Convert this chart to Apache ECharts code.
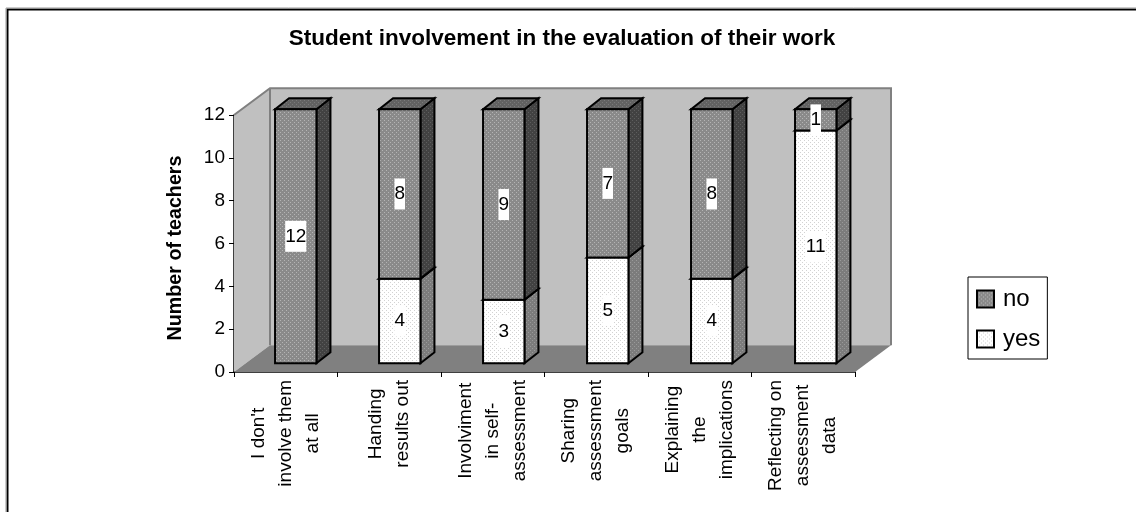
<!DOCTYPE html>
<html>
<head>
<meta charset="utf-8">
<style>html,body{margin:0;padding:0;background:#fff}#c{width:1136px;height:512px}</style>
<script src="https://cdn.jsdelivr.net/npm/echarts@6/dist/echarts.min.js"></script>
</head>
<body>
<div id="c"></div>
<script>
const categories = ["I don't\ninvolve them\nat all", "Handing\nresults out", "Involviment\nin self-\nassessment", "Sharing\nassessment\ngoals", "Explaining\nthe\nimplications", "Reflecting on\nassessment\ndata"];
const yesValues = [0, 4, 3, 5, 4, 11];
const noValues = [12, 8, 9, 7, 8, 1];
const yTicks = [0, 2, 4, 6, 8, 10, 12];

const FONT = '"Liberation Sans", Arial, sans-serif';

function tile(base, dot, size) {
  const cv = document.createElement('canvas');
  cv.width = cv.height = size;
  const g = cv.getContext('2d');
  g.fillStyle = base; g.fillRect(0, 0, size, size);
  g.fillStyle = dot;
  for (let y = 0; y < size; y += 2) {
    for (let x = (y % 4 === 0 ? 0 : 2) % size; x < size; x += 4) g.fillRect(x, y, 1, 1);
  }
  return { image: cv, repeat: 'repeat' };
}
const fills = {
  no: { front: tile('#8a8a8a', '#b4b4b4', 4), side: tile('#424242', '#5e5e5e', 4), top: tile('#626262', '#7a7a7a', 4) },
  yes: { front: tile('#ffffff', '#d2d2d2', 4), side: tile('#7c7c7c', '#9a9a9a', 4), top: tile('#dddddd', '#ffffff', 4) }
};

const DX = 14, DY = 11;
function poly(pts, fill, sw) {
  return { type: 'polygon', shape: { points: pts }, style: { fill: fill, stroke: '#000', lineWidth: sw === undefined ? 2 : sw, lineJoin: 'miter' } };
}
function barRender(name) {
  return function (params, api) {
    const i = api.value(0), lo = api.value(1), hi = api.value(2);
    const first = api.coord([0, 0]);
    const c = api.coord([i, 0]);
    const y12 = api.coord([0, 12])[1];
    const k = 254 / (first[1] - y12);
    const base = first[1] - 8.7;
    const yOf = function (v) { return base - (first[1] - api.coord([i, v])[1]) * k; };
    const cx = c[0] + 10 + (c[0] - first[0]) * 0.0048;
    const hw = 20.7;
    const l = cx - hw, r = cx + hw, t = yOf(hi), b = yOf(lo);
    const F = fills[name];
    const kids = [];
    if (hi > lo) {
      kids.push(poly([[r, t], [r + DX, t - DY], [r + DX, b - DY], [r, b]], F.side));
      kids.push(poly([[l, t], [l + DX, t - DY], [r + DX, t - DY], [r, t]], F.top));
      kids.push(poly([[l, t], [r, t], [r, b], [l, b]], F.front));
      kids.push({
        type: 'text', z2: 50,
        style: {
          text: String(hi - lo), x: cx, y: (t + b) / 2, align: 'center', verticalAlign: 'middle',
          fill: '#000', font: '19px ' + FONT, backgroundColor: '#fff', padding: [6, 0, 6, 0]
        }
      });
    }
    return { type: 'group', children: kids };
  };
}
function wallRender(params, api) {
  const p0 = api.coord([0, 0]), p12 = api.coord([0, 12]);
  const step = api.size([1, 0])[0];
  const L = p0[0] - step / 2, R = L + step * categories.length;
  const yB = p0[1], yT = p12[1];
  const wx = 36, wy = 26.7;
  const g = '#808080';
  return {
    type: 'group',
    children: [
      { type: 'polygon', shape: { points: [[L, yT], [L + wx, yT - wy], [L + wx, yB - wy], [L, yB]] }, style: { fill: '#c0c0c0' } },
      { type: 'rect', shape: { x: L + wx, y: yT - wy, width: R - L, height: yB - yT }, style: { fill: '#c0c0c0' } },
      { type: 'polygon', shape: { points: [[L, yB], [L + wx, yB - wy], [R + wx, yB - wy], [R, yB]] }, style: { fill: g } },
      { type: 'polyline', shape: { points: [[L, yT], [L + wx, yT - wy], [R + wx, yT - wy], [R + wx, yB - wy]] }, style: { fill: 'none', stroke: g, lineWidth: 2 } },
      { type: 'line', shape: { x1: L + wx, y1: yT - wy, x2: L + wx, y2: yB - wy }, style: { stroke: g, lineWidth: 2 } }
    ]
  };
}

const yesData = categories.map((c, i) => [i, 0, yesValues[i]]);
const noData = categories.map((c, i) => [i, yesValues[i], yesValues[i] + noValues[i]]);

const chart = echarts.init(document.getElementById('c'), null, { renderer: 'canvas', width: 1136, height: 512 });
chart.setOption({
  animation: false,
  backgroundColor: '#fff',
  title: {
    text: 'Student involvement in the evaluation of their work',
    left: 557, top: 22, textAlign: 'center',
    textStyle: { fontFamily: FONT, fontSize: 22.5, fontWeight: 'bold', color: '#000' }
  },
  graphic: [
    { type: 'polyline', silent: true, shape: { points: [[7.5, 512], [7.5, 9.5], [1136, 9.5]] }, style: { fill: 'none', stroke: '#000', lineWidth: 2 } },
    { type: 'polyline', silent: true, shape: { points: [[6, 512], [6, 8], [1136, 8]] }, style: { fill: 'none', stroke: '#999', lineWidth: 1 } }
  ],
  legend: {
    data: [{ name: 'no', icon: 'rect' }, { name: 'yes', icon: 'rect' }], orient: 'vertical', left: 968, top: 277,
    padding: [10, 7, 8, 8], itemWidth: 17, itemHeight: 17, itemGap: 16,
    borderColor: '#000', borderWidth: 1, backgroundColor: '#fff',
    selectedMode: false,
    textStyle: { fontFamily: FONT, fontSize: 24, color: '#000', padding: [0, 0, 0, 4] }
  },
  grid: { left: 234, top: 115, width: 621, height: 257 },
  xAxis: {
    type: 'category', data: categories, boundaryGap: true,
    axisLine: { show: true, onZero: false, lineStyle: { color: '#000', width: 1.5 } },
    axisTick: { show: true, length: 5, alignWithLabel: false, lineStyle: { color: '#000', width: 1 } },
    splitLine: { show: false },
    axisLabel: {
      interval: 0, rotate: 90, margin: 8, color: '#000', fontFamily: FONT, fontSize: 19,
      hideOverlap: false,
      formatter: function (v) { return v.split('\n').map(s => '{a|' + s + '}').join('\n'); },
      rich: { a: { align: 'center', fontFamily: FONT, fontSize: 19, lineHeight: 27, color: '#000' } }
    }
  },
  yAxis: {
    type: 'value', min: 0, max: 12, interval: 2,
    name: 'Number of teachers', nameLocation: 'middle', nameGap: 48, nameRotate: 90,
    nameTextStyle: { fontFamily: FONT, fontSize: 19.7, fontWeight: 'bold', color: '#000', padding: [0, 9, 0, 0] },
    axisLine: { show: true, lineStyle: { color: '#000', width: 1.5 } },
    axisTick: { show: true, length: 5, lineStyle: { color: '#000', width: 1 } },
    splitLine: { show: false },
    axisLabel: {
      margin: 9, color: '#000', fontFamily: FONT, fontSize: 19, padding: [2, 0, 0, 0],
      formatter: function (v) { return yTicks.indexOf(v) >= 0 ? String(v) : ''; }
    }
  },
  series: [
    { type: 'custom', name: 'walls', silent: true, z: 1, clip: false, renderItem: wallRender, data: [[0]], encode: { x: 0 }, tooltip: { show: false } },
    { type: 'custom', name: 'yes', z: 3, clip: false, renderItem: barRender('yes'), data: yesData, encode: { x: 0, y: 2 },
      itemStyle: { color: fills.yes.front, borderColor: '#000', borderWidth: 1.5 } },
    { type: 'custom', name: 'no', z: 4, clip: false, renderItem: barRender('no'), data: noData, encode: { x: 0, y: 2 },
      itemStyle: { color: fills.no.front, borderColor: '#000', borderWidth: 1.5 } }
  ]
});
</script>
</body>
</html>
